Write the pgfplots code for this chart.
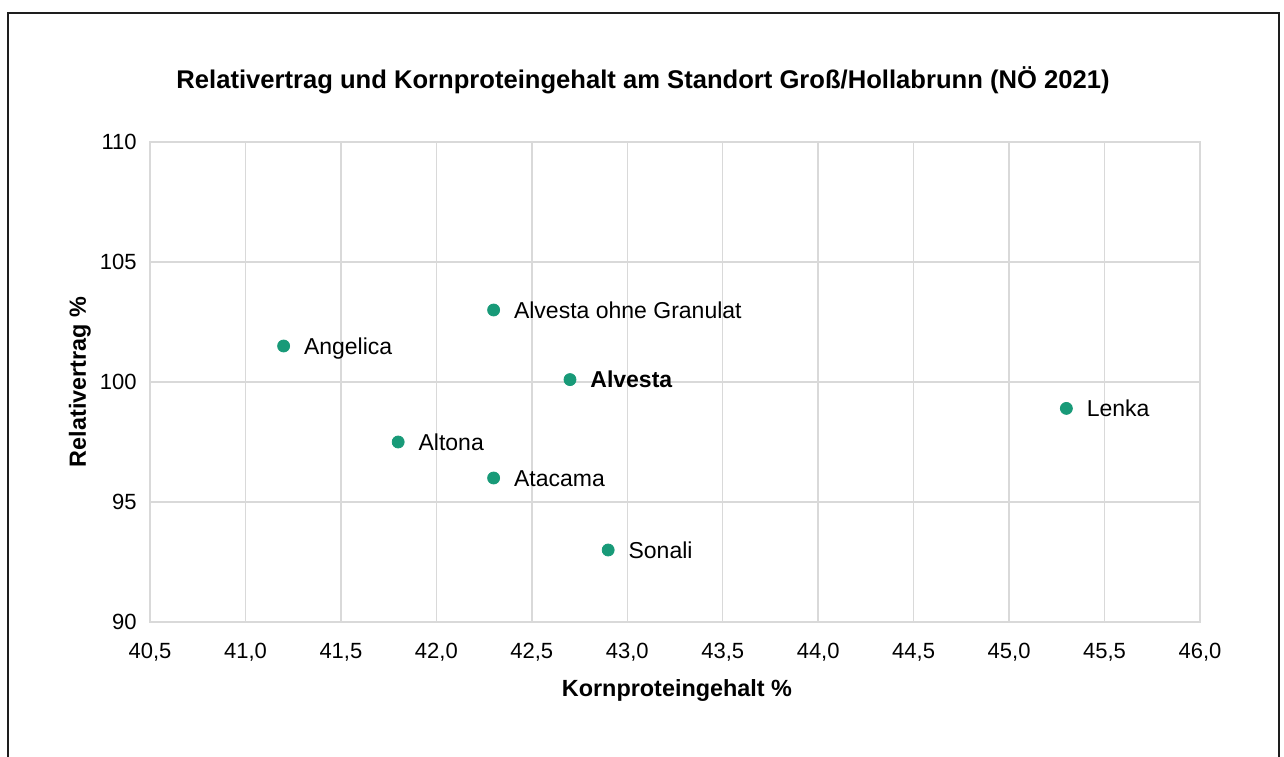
\documentclass[border=0pt]{standalone}
\usepackage{fontspec}
\setmainfont{Liberation Sans}
\usepackage{pgfplots}
\pgfplotsset{compat=1.18}
\definecolor{dotgreen}{RGB}{24,154,120}
\definecolor{gridgray}{RGB}{217,217,217}
\definecolor{framegray}{RGB}{30,30,30}

\begin{document}
\begin{tikzpicture}
  \useasboundingbox[fill=white] (-75pt,-67pt) rectangle (567pt,311pt);
  \begin{axis}[scale only axis, width=525pt, height=240pt,
    xmin=40.5, xmax=46, ymin=90, ymax=110,
    xtick={40.5,41,...,46}, ytick={90,95,...,110},
    grid=major, major grid style={gridgray, line width=0.75pt},
    axis line style={gridgray, line width=0.75pt},
    major tick length=0pt,
    tick label style={font=\fontsize{11}{13}\selectfont, inner sep=0pt},
    /pgf/number format/assume math mode=true,
    xticklabel style={anchor=north, yshift=-10.5pt,
      /pgf/number format/.cd, fixed, fixed zerofill, precision=1, use comma},
    yticklabel style={anchor=east, xshift=-6.5pt},
    point meta=explicit symbolic,
    nodes near coords,
    every node near coord/.append style={anchor=base west, inner sep=0pt,
      xshift=10pt, yshift=-4pt, text=black, font=\fontsize{11.5}{13}\selectfont},
    clip=false]
    \addplot[only marks, mark=*, mark size=3pt, color=dotgreen] coordinates {
      (41.2,101.5) [Angelica]
      (42.3,103.0) [Alvesta ohne Granulat]
      (42.7,100.1) [\textbf{Alvesta}]
      (41.8,97.5) [Altona]
      (42.3,96.0) [Atacama]
      (42.9,93.0) [Sonali]
      (45.3,98.9) [Lenka]
    };
  \end{axis}
  \node[anchor=base, font=\bfseries\fontsize{12.8}{15}\selectfont] at (246.5pt,266.5pt)
    {Relativertrag und Kornproteingehalt am Standort Groß/Hollabrunn (NÖ 2021)};
  \node[anchor=base, font=\bfseries\fontsize{11.7}{14}\selectfont] at (263.5pt,-37pt)
    {Kornproteingehalt \%};
  \node[rotate=90, font=\bfseries\fontsize{11.7}{14}\selectfont] at (-35pt,120pt)
    {Relativertrag \%};
  \draw[framegray, line width=1pt] (-71pt,-68pt) rectangle (564.5pt,304.5pt);
\end{tikzpicture}
\end{document}
